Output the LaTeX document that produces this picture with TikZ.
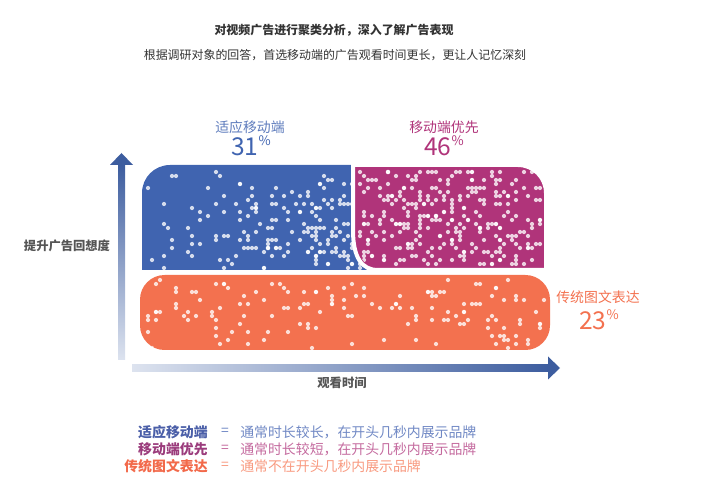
\documentclass[tikz,border=0pt]{standalone}
\usepackage{fontspec}
\setmainfont{Noto Sans CJK SC}
\usetikzlibrary{calc}

\definecolor{adblue}{HTML}{4064B0}
\definecolor{admag}{HTML}{B0347A}
\definecolor{adorange}{HTML}{F3714F}
\definecolor{axisdark}{HTML}{3D5D9F}
\definecolor{axislight}{HTML}{DDE3EF}
\definecolor{txtgray}{HTML}{333333}
\definecolor{lblgray}{HTML}{555555}
\definecolor{legblue}{HTML}{4B5FA8}
\definecolor{legbluel}{HTML}{7088C4}
\definecolor{legmag}{HTML}{9B3C7C}
\definecolor{legmagl}{HTML}{C46A9E}
\definecolor{legorg}{HTML}{F2694A}
\definecolor{legorgl}{HTML}{F89A80}

\newcommand{\pctval}[1]{{\fontsize{14}{14}\selectfont #1}\raisebox{0.55em}{\fontsize{7.5}{7.5}\selectfont\%}}

\tikzset{
  headline/.style={font=\fontsize{6.8}{8}\selectfont\bfseries, text=txtgray, inner sep=0pt},
  subline/.style={font=\fontsize{6.8}{8}\selectfont, text=txtgray, inner sep=0pt},
  axislbl/.style={font=\fontsize{7}{8}\selectfont\bfseries, text=lblgray, inner sep=0pt},
  grouplbl/.style={font=\fontsize{7.9}{9}\selectfont, inner sep=0pt},
  pctlbl/.style={inner sep=0pt},
  legkey/.style={font=\fontsize{7.9}{9}\selectfont\bfseries, anchor=east, inner sep=0pt},
  legeq/.style={font=\fontsize{7.9}{9}\selectfont, inner sep=0pt},
  legtxt/.style={font=\fontsize{7.9}{9}\selectfont, anchor=west, inner sep=0pt},
  dotfill/.style={fill=white, fill opacity=0.78},
}

\begin{document}
\begin{tikzpicture}[x=0.02cm, y=-0.02cm]
  \useasboundingbox (0,0) rectangle (701,500);

  % heading
  \node[headline] (head) at (334,30) {对视频广告进行聚类分析，深入了解广告表现};
  \node[subline] (sub) at (335,55) {根据调研对象的回答，首选移动端的广告观看时间更长，更让人记忆深刻};

  % blue block
  \fill[adblue] (142,270) -- (142,193) .. controls (142,177.5) and (154.5,165) .. (170,165)
    -- (380,165) -- (380,270) -- cycle;
  \begin{scope}
    \clip (142,270) -- (142,193) .. controls (142,177.5) and (154.5,165) .. (170,165)
      -- (380,165) -- (380,270) -- cycle;
    \pgfmathsetseed{11}
    \foreach \k in {1,...,200}{
      \pgfmathsetmacro\px{4*round((146+224*rnd^0.5)/4)}
      \pgfmathsetmacro\py{4*round((172+96*rnd^0.7)/4)}
      \fill[dotfill] (\px,\py) circle (1.2pt);
    }
  \end{scope}

  % magenta block
  \fill[admag, draw=white, line width=0.08cm] (353,165) -- (518,165)
    .. controls (533.5,165) and (546,177.5) .. (546,193) -- (546,270) -- (378,270)
    .. controls (362,270) and (353,258) .. (353,230) -- cycle;
  \begin{scope}
    \clip (356,167) -- (518,167)
      .. controls (533.5,167) and (544,177.5) .. (544,193) -- (544,268) -- (378,268)
      .. controls (364,268) and (356,256) .. (356,230) -- cycle;
    \foreach \k in {1,...,290}{
      \pgfmathsetmacro\px{4*round((358+184*rnd)/4)}
      \pgfmathsetmacro\py{4*round((170+96*rnd^0.85)/4)}
      \fill[dotfill] (\px,\py) circle (1.2pt);
    }
  \end{scope}

  % orange block
  \fill[adorange, rounded corners=14pt] (140,275) rectangle (550,350);
  \begin{scope}
    \clip[rounded corners=14pt] (140,275) rectangle (550,350);
    \foreach \k in {1,...,150}{
      \pgfmathsetmacro\px{4*round((144+400*rnd)/4)}
      \pgfmathsetmacro\py{4*round((279+68*rnd)/4)}
      \fill[dotfill] (\px,\py) circle (1.2pt);
    }
  \end{scope}

  % axes
  \coordinate (yfoot) at (121.5,360);
  \coordinate (ytip) at (121.5,153);
  \coordinate (xfoot) at (132,368);
  \coordinate (xtip) at (560,368);
  \shade[top color=axisdark, bottom color=axislight]
    ($(yfoot)+(-3.5,0)$) rectangle ($(ytip)+(3.5,12)$);
  \fill[axisdark] (ytip) -- ($(ytip)+(11.5,12)$) -- ($(ytip)+(-11.5,12)$) -- cycle;
  \shade[left color=axislight, right color=axisdark]
    ($(xfoot)+(0,-3.5)$) rectangle ($(xtip)+(-12,3.5)$);
  \fill[axisdark] (xtip) -- ($(xtip)+(-12,-11.5)$) -- ($(xtip)+(-12,11.5)$) -- cycle;
  \node[axislbl] (ylbl) at (67,246) {提升广告回想度};
  \node[axislbl] (xlbl) at (342,383) {观看时间};

  % group labels
  \node[grouplbl, text=adblue!85!white] (fitlbl) at (250,127) {适应移动端};
  \node[pctlbl, text=adblue] (fitpct) at (251,146) {\pctval{31}};
  \node[grouplbl, text=admag] (firstlbl) at (444,127) {移动端优先};
  \node[pctlbl, text=admag] (firstpct) at (444,146) {\pctval{46}};
  \node[grouplbl, text=adorange] (tradlbl) at (598,297) {传统图文表达};
  \node[pctlbl, text=adorange] (tradpct) at (599,320) {\pctval{23}};

  % legend
  \node[legkey, text=legblue] (keyA) at (208,432) {适应移动端};
  \node[legeq, text=legbluel] (eqA) at (225,432) {=};
  \node[legtxt, text=legbluel] (txtA) at (240,432) {通常时长较长，在开头几秒内展示品牌};
  \node[legkey, text=legmag] (keyB) at (208,449) {移动端优先};
  \node[legeq, text=legmagl] (eqB) at (225,449) {=};
  \node[legtxt, text=legmagl] (txtB) at (240,449) {通常时长较短，在开头几秒内展示品牌};
  \node[legkey, text=legorg] (keyC) at (208,466) {传统图文表达};
  \node[legeq, text=legorgl] (eqC) at (225,466) {=};
  \node[legtxt, text=legorgl] (txtC) at (240,466) {通常不在开头几秒内展示品牌};
\end{tikzpicture}
\end{document}
